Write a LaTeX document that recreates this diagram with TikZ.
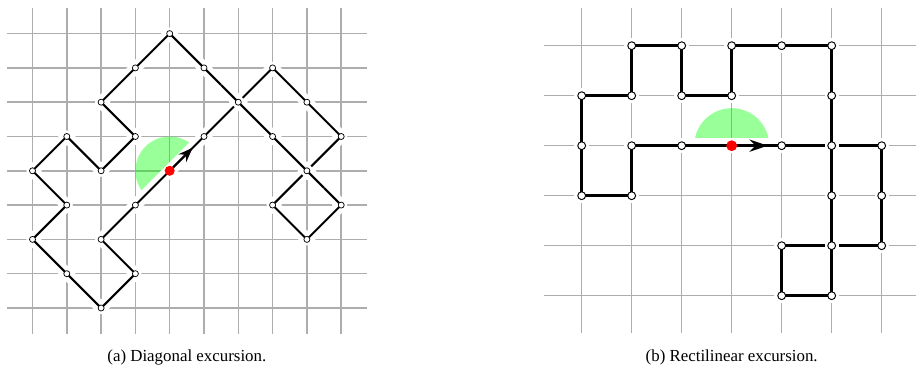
\documentclass[tikz,border=0pt]{standalone}
\usepackage{fontspec}
\setmainfont{Liberation Serif}
\usetikzlibrary{arrows.meta, calc}
\pgfdeclarelayer{gridlayer}
\pgfdeclarelayer{walklayer}
\pgfsetlayers{gridlayer,walklayer,main}

\begin{document}
\begin{tikzpicture}[
  >={Stealth},
  gridline/.style={black!32, line width=#1},
  walk/.style={draw=black, line width=#1, line join=miter},
  halo/.style={preaction={draw=white, line width=#1, line join=round}},
  vtx/.style={circle, draw=black, fill=white, inner sep=0pt,
    minimum size=#1, line width=0.6pt},
  origin/.style={circle, fill=red, inner sep=0pt, minimum size=#1},
  sector/.style={fill=green, fill opacity=0.4},
  caption/.style={font=\fontsize{14}{16}\selectfont}
]

\useasboundingbox (0,0) rectangle (26.706,11.166);

%% (a) Diagonal excursion
\begin{scope}[shift={(0.9475,2.1866)}]
  \foreach \c/\r in {4/8, 3/7, 5/7, 7/7, 2/6, 6/6, 8/6, 1/5, 3/5, 5/5,
                     7/5, 9/5, 0/4, 2/4, 8/4, 1/3, 3/3, 7/3, 9/3, 0/2,
                     2/2, 8/2, 1/1, 3/1, 2/0}
    \node[vtx=5pt] (L\c\r) at (\c,\r) {};
  \node[origin=8.3pt] (L44) at (4,4) {};

  \begin{pgfonlayer}{gridlayer}
    \foreach \c in {0,...,9}
      \draw[gridline=1.2pt] (\c,-0.75) -- (\c,8.75);
    \foreach \r in {0,...,8}
      \draw[gridline=1.2pt] (-0.75,\r) -- (9.75,\r);
    \fill[sector] (L44.center) -- ++(45:1)
      arc[start angle=45, end angle=225, radius=1] -- cycle;
  \end{pgfonlayer}

  \begin{pgfonlayer}{walklayer}
    \draw[walk=1.7pt, halo=10pt] (L44.center)
      \foreach \p in {55,66,77,86,95,84,73,82,93,84,75,66,57,48,
                      37,26,35,24,15,04,13,02,11,20,31,22,33}
        { -- (L\p.center) } -- cycle;
    % second passes go over
    \draw[walk=1.7pt, halo=10pt] ($(L84)!0.5!(L93)$) -- ($(L66)!0.5!(L57)$);
  \end{pgfonlayer}

  \draw[walk=1.7pt, -{Stealth[length=12pt, width=9pt]}]
    (L44) -- ($(L44)!0.67!(L55)$);

  \node[caption] (capL) at (4.5,-1.43) {(a) Diagonal excursion.};
\end{scope}

%% (b) Rectilinear excursion
\begin{scope}[shift={(16.959,2.545)}, scale=1.4577]
  \foreach \c/\r in {1/5, 2/5, 3/5, 4/5, 5/5, 0/4, 1/4, 2/4, 3/4, 5/4,
                     0/3, 1/3, 2/3, 4/3, 5/3, 6/3, 0/2, 1/2, 5/2, 6/2,
                     4/1, 5/1, 6/1, 4/0, 5/0}
    \node[vtx=6.5pt, line width=0.8pt] (R\c\r) at (\c,\r) {};
  \node[origin=9pt] (R33) at (3,3) {};

  \begin{pgfonlayer}{gridlayer}
    \foreach \c in {0,...,6}
      \draw[gridline=1.1pt] (\c,-0.75) -- (\c,5.75);
    \foreach \r in {0,...,5}
      \draw[gridline=1.1pt] (-0.75,\r) -- (6.68,\r);
    \fill[sector] (R33.center) -- ++(0:0.75)
      arc[start angle=0, end angle=180, radius=0.75] -- cycle;
  \end{pgfonlayer}

  \begin{pgfonlayer}{walklayer}
    \draw[walk=2.2pt, halo=12pt] (R33.center)
      \foreach \p in {43,53,63,62,61,51,41,40,50,51,52,53,54,55,
                      45,35,34,24,25,15,14,04,03,02,12,13,23}
        { -- (R\p.center) } -- cycle;
    % second passes go over
    \draw[walk=2.2pt, halo=12pt] ($(R51)!0.5!(R50)$) -- ($(R53)!0.5!(R54)$);
  \end{pgfonlayer}

  \draw[walk=2.2pt, -{Stealth[length=15pt, width=10pt]}]
    (R33) -- ($(R33)!0.72!(R43)$);

  \node[caption] (capR) at (3,-1.226) {(b) Rectilinear excursion.};
\end{scope}

\end{tikzpicture}
\end{document}
